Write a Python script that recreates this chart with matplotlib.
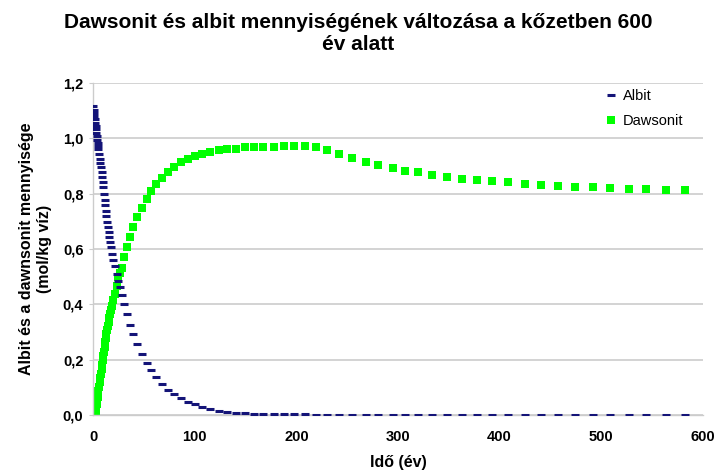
import numpy as np
import matplotlib
matplotlib.use("Agg")
import matplotlib.pyplot as plt
from matplotlib.ticker import FuncFormatter

plt.rcParams["font.family"] = ["Liberation Sans", "DejaVu Sans"]

TITLE = "Dawsonit és albit mennyiségének változása a kőzetben 600\név alatt"
X_LABEL = "Idő (év)"
Y_LABEL = "Albit és a dawnsonit mennyisége\n(mol/kg víz)"
SERIES_NAMES = ["Albit", "Dawsonit"]

# time points (years), shared by both series
TIME = [
    0, 0.4, 0.8, 1.2, 1.6, 2.0, 2.4, 2.8, 3.2, 3.6, 4.0, 4.4, 4.8,
    5.2, 5.8, 6.4, 7.0, 7.6, 8.2, 8.8, 9.4, 10.0, 10.6, 11.2, 11.8,
    12.4, 13.0, 13.7, 14.4, 15.1, 15.8, 16.5, 17.3, 18.4, 19.7, 21.2,
    23.0, 24.7, 26.5, 28.2, 30.7, 33.4, 36.3, 39.6, 43.3, 48.3,
    52.7, 57.3, 62.0, 67.8, 73.8, 80.0, 86.5, 93.0, 100.0, 107.0,
    115.0, 123.5, 131.7, 140.5, 149.0, 158.0, 167.6, 177.5, 187.8, 198.0,
    208.8, 219.3, 230.5, 242.3, 254.8, 268.5, 280.0, 294.7, 307.0, 320.2,
    334.0, 348.7, 363.0, 378.3, 392.8, 408.8, 425.2, 441.2, 457.8, 474.8,
    491.8, 509.0, 527.0, 544.4, 564.0, 582.4,
]

ALBIT = [
    1.115, 1.104, 1.092, 1.080, 1.068, 1.056, 1.044, 1.032, 1.020, 1.007, 0.995, 0.983, 0.971,
    0.961, 0.943, 0.925, 0.911, 0.895, 0.877, 0.859, 0.841, 0.823, 0.800, 0.778, 0.758,
    0.739, 0.718, 0.697, 0.679, 0.661, 0.643, 0.625, 0.607, 0.583, 0.562, 0.538,
    0.511, 0.486, 0.462, 0.435, 0.402, 0.366, 0.327, 0.291, 0.255, 0.220,
    0.188, 0.162, 0.136, 0.112, 0.090, 0.076, 0.062, 0.047, 0.038, 0.030,
    0.022, 0.016, 0.012, 0.008, 0.006, 0.005, 0.004, 0.003, 0.003, 0.002,
    0.002, 0.001, 0.001, 0.001, 0.001, 0.001, 0.001, 0.001, 0.001, 0.001,
    0.001, 0.001, 0.001, 0.001, 0.001, 0.001, 0.001, 0.001, 0.001, 0.001,
    0.001, 0.001, 0.001, 0.001, 0.001, 0.001,
]

DAWSONIT = [
    0.0, 0.0, 0.0, 0.0, 0.0, 0.0, 0.0, 0.012, 0.026, 0.040, 0.053, 0.065, 0.077,
    0.088, 0.103, 0.118, 0.133, 0.149, 0.165, 0.181, 0.197, 0.213, 0.229, 0.246, 0.263,
    0.277, 0.291, 0.306, 0.321, 0.336, 0.350, 0.366, 0.379, 0.395, 0.415, 0.438,
    0.468, 0.498, 0.515, 0.531, 0.570, 0.607, 0.643, 0.679, 0.715, 0.747,
    0.781, 0.810, 0.836, 0.858, 0.879, 0.897, 0.914, 0.926, 0.937, 0.943,
    0.951, 0.957, 0.961, 0.963, 0.967, 0.967, 0.967, 0.967, 0.972, 0.973,
    0.973, 0.970, 0.958, 0.943, 0.928, 0.915, 0.904, 0.892, 0.883, 0.877,
    0.868, 0.861, 0.853, 0.849, 0.847, 0.841, 0.835, 0.832, 0.829, 0.825,
    0.823, 0.820, 0.817, 0.816, 0.814, 0.812,
]

X_TICKS = [0, 100, 200, 300, 400, 500, 600]
Y_TICKS = [0.0, 0.2, 0.4, 0.6, 0.8, 1.0, 1.2]

fig = plt.figure(figsize=(7.17, 4.73), dpi=100)
ax = fig.add_axes([0.130, 0.1226, 0.850, 0.702])

ax.plot(TIME, ALBIT, linestyle="none", marker="_", markersize=5.4,
        markeredgewidth=2.2, color="#141478", label=SERIES_NAMES[0], zorder=3)
ax.plot(TIME, DAWSONIT, linestyle="none", marker="s", markersize=5.9,
        markeredgewidth=0, color="#00ff00", label=SERIES_NAMES[1], zorder=2)

ax.set_xlim(X_TICKS[0], X_TICKS[-1])
ax.set_ylim(Y_TICKS[0], Y_TICKS[-1])
ax.set_xticks(X_TICKS)
ax.set_yticks(Y_TICKS)
ax.yaxis.set_major_formatter(FuncFormatter(lambda v, p: f"{v:.1f}".replace(".", ",")))

ax.grid(axis="y", color="#cccccc", linewidth=1.2)
ax.set_axisbelow(True)
for side in ["top", "right"]:
    ax.spines[side].set_visible(False)
for side in ["left", "bottom"]:
    ax.spines[side].set_color("#cccccc")
    ax.spines[side].set_linewidth(1.0)
ax.tick_params(axis="y", length=3, color="#cccccc", labelsize=10.5, pad=4)
ax.tick_params(axis="x", length=0, labelsize=10.5, pad=11)
for lbl in ax.get_xticklabels() + ax.get_yticklabels():
    lbl.set_fontweight("bold")

ax.set_xlabel(X_LABEL, fontsize=11.5, fontweight="bold", labelpad=8)
ax.set_ylabel(Y_LABEL, fontsize=11.5, fontweight="bold", labelpad=8)
fig.suptitle(TITLE, fontsize=15, fontweight="bold", y=0.972, linespacing=1.2)

leg = ax.legend(loc="upper right", bbox_to_anchor=(0.99, 1.02), frameon=False,
                fontsize=10.5, handlelength=0.8, handletextpad=0.4, labelspacing=0.75)

fig.savefig("out.png", dpi=100)
